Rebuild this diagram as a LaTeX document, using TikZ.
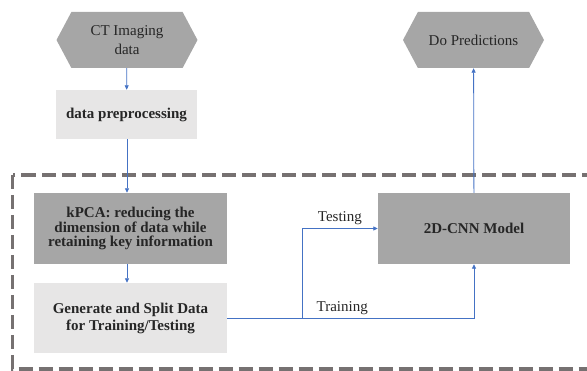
\documentclass[tikz,border=0pt]{standalone}
\usepackage{fontspec}
\setmainfont{Liberation Serif}
\usepackage{xcolor}
\usetikzlibrary{positioning, shapes.geometric, shapes.symbols}
\usetikzlibrary{arrows, arrows.meta}
\definecolor{boxdark}{HTML}{A6A6A6}
\definecolor{boxlight}{HTML}{E7E6E6}
\definecolor{flowblue}{HTML}{4472C4}
\definecolor{framegray}{HTML}{767171}
\tikzset{ hexa/.style={signal, signal to=west and east,
            signal pointer angle=124, fill=boxdark,
            minimum width=141pt, minimum height=56pt,
            inner sep=0pt, align=center, text=black!85,
            font=\fontsize{15pt}{19pt}\selectfont}}
\tikzset{ stage/.style args={#1 #2 #3}{fill=#1,
            minimum width=#2, minimum height=#3,
            inner sep=0pt, align=center, text=black!85,
            font=\fontsize{15pt}{17pt}\selectfont\bfseries}}
\tikzset{ flow/.style={flowblue, line width=0.8pt,
            -{Triangle[length=4.5pt,width=4pt]}}}
\tikzset{ waylabel/.style={above, text=black!85,
            font=\fontsize{15pt}{17pt}\selectfont}}

\begin{document}
\begin{tikzpicture}[x=1pt,y=-1pt]
\useasboundingbox (0,0) rectangle (587,371);

%dashed frame round the model part
\draw[framegray, line width=3.5pt, dash pattern=on 14pt off 6pt]
  (12.5,175) rectangle (610,369);

\node[hexa] (ct) at (127,40) {CT Imaging\\data};
\node[hexa] (pred) at (473.5,40) {Do Predictions};
\node[stage={boxlight 141pt 49pt}] (prep) at (126.5,114.5) {data preprocessing};
\node[stage={boxdark 193pt 71pt},
  font=\fontsize{15pt}{14.5pt}\selectfont\bfseries] (kpca) at (130.5,228.5)
  {kPCA: reducing the\\dimension of data while\\retaining key information};
\node[stage={boxlight 193pt 70pt}] (gen) at (130.5,318)
  {Generate and Split Data\\for Training/Testing};
\node[stage={boxdark 192pt 71pt}] (cnn) at (474,228.5) {2D-CNN Model};

\coordinate (split) at (302,0);

%down the left column
\draw[flow] (ct) -- (prep);
\foreach \a/\b in {prep/kpca,kpca/gen}
  \draw[flow] (ct.south |- \a.south) -- (ct.south |- \b.north);
%the two ways into the model
\draw[flow] (gen.east) -- (split |- gen.east) |- (cnn.west)
  node[pos=0.75, waylabel] {Testing};
\draw[flow] (gen.east) -| (cnn.south)
  node[pos=0.233, waylabel] {Training};
\draw[flow] (cnn) -- (pred);

\end{tikzpicture}
\end{document}
